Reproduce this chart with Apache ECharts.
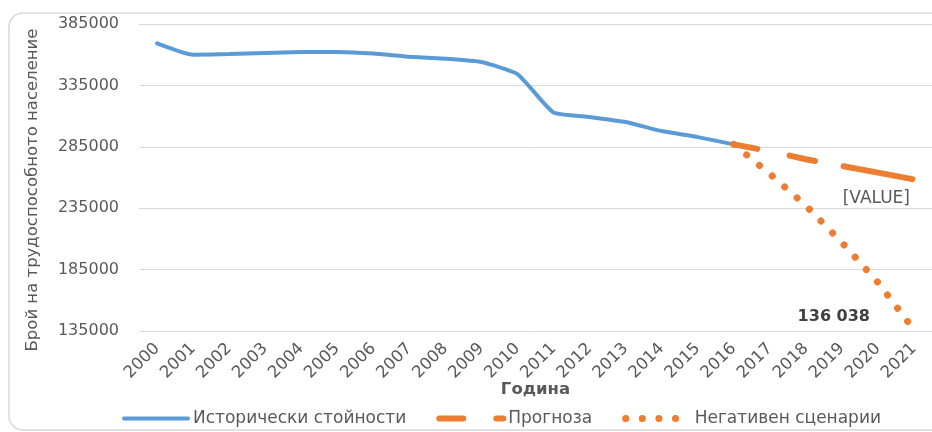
<!DOCTYPE html>
<html>
<head>
<meta charset="utf-8">
<script src="https://cdn.jsdelivr.net/npm/echarts@6/dist/echarts.min.js"></script>
<style>
  html, body { margin: 0; padding: 0; background: #fff; }
  #chart { width: 932px; height: 432px; }
</style>
</head>
<body>
<div id="chart"></div>
<script>
const years = ["2000", "2001", "2002", "2003", "2004", "2005", "2006", "2007", "2008", "2009", "2010",
  "2011", "2012", "2013", "2014", "2015", "2016", "2017", "2018", "2019", "2020", "2021"];

// historical values 2000-2016
const historical = [369200, 359900, 360500, 361300, 362100, 362300, 361000, 358300, 356700, 354000,
  344200, 312900, 309300, 305200, 297800, 292900, 287000];
// forecasts 2016-2021
const forecast = [287000, 281300, 274900, 269400, 264000, 258400];
const negative = [287000, 263000, 237100, 207100, 174500, 136038];

const yTicks = { min: 135000, max: 385000, step: 50000 };

const textColor = "#595959";
const fontFamily = "DejaVu Sans";

const pad = (arr, before, total) => {
  const out = [];
  for (let i = 0; i < total; i++) {
    const j = i - before;
    out.push(j >= 0 && j < arr.length ? arr[j] : null);
  }
  return out;
};

const chart = echarts.init(document.getElementById("chart"));

const option = {
  animation: false,
  textStyle: { fontFamily: fontFamily, color: textColor },
  graphic: [
    {
      type: "rect",
      shape: { x: 9, y: 13, width: 940, height: 417, r: 14 },
      style: { fill: "none", stroke: "#d9d9d9", lineWidth: 1.5 },
      silent: true,
      z: -1,
    },
    {
      type: "text",
      x: 33,
      y: 190,
      rotation: Math.PI / 2,
      style: {
        text: "Брой на трудоспособното население",
        fill: textColor,
        font: "16.5px " + fontFamily,
        align: "center",
        verticalAlign: "middle",
      },
    },
  ],
  grid: { left: 139, top: 24, width: 795, height: 307 },
  legend: {
    left: 117,
    top: 405,
    itemWidth: 64,
    itemHeight: 8,
    itemGap: 30,
    itemStyle: { opacity: 0 },
    lineStyle: { width: "inherit" },
    textStyle: { fontSize: 17, color: textColor, fontFamily: fontFamily },
    data: ["Исторически стойности", "Прогноза", "Негативен сценарии"],
  },
  xAxis: {
    type: "category",
    data: years,
    boundaryGap: true,
    name: "Година",
    nameLocation: "middle",
    nameGap: 50,
    nameMoveOverlap: false,
    nameTextStyle: { fontSize: 16.5, fontWeight: "bold", color: textColor },
    axisLine: { show: false },
    axisTick: { show: false },
    axisLabel: { rotate: 45, margin: 15, fontSize: 16.5, color: textColor },
  },
  yAxis: {
    type: "value",
    min: yTicks.min,
    max: yTicks.max,
    interval: yTicks.step,
    axisLine: { show: false },
    axisTick: { show: false },
    splitLine: { lineStyle: { color: "#d9d9d9", width: 1 } },
    axisLabel: { fontSize: 16, color: textColor, margin: 20, formatter: (v) => String(v) },
  },
  series: [
    {
      name: "Исторически стойности",
      type: "line",
      data: pad(historical, 0, years.length),
      symbol: "none",
      smooth: 0.15,
      color: "#5b9bd5",
      lineStyle: { width: 4, color: "#5b9bd5", cap: "round" },
      z: 2,
    },
    {
      name: "Прогноза",
      type: "line",
      data: pad(forecast, 16, years.length),
      symbol: "none",
      color: "#ed7d31",
      lineStyle: { width: 6, color: "#ed7d31", type: [24, 33, 26, 29, 70, 40], cap: "round" },
      endLabel: {
        show: true,
        formatter: "[VALUE]",
        align: "right",
        verticalAlign: "middle",
        offset: [-12, 19],
        fontSize: 17,
        color: textColor,
      },
      z: 3,
    },
    {
      name: "Негативен сценарии",
      type: "line",
      data: pad(negative, 16, years.length),
      symbol: "none",
      color: "#ed7d31",
      lineStyle: { width: 7, color: "#ed7d31", type: [0.1, 16.5], cap: "round" },
      endLabel: {
        show: true,
        formatter: "136 038",
        align: "right",
        verticalAlign: "middle",
        offset: [-52, -13],
        fontSize: 16,
        fontWeight: "bold",
        color: "#404040",
      },
      z: 3,
    },
  ],
};

chart.setOption(option);
</script>
</body>
</html>
